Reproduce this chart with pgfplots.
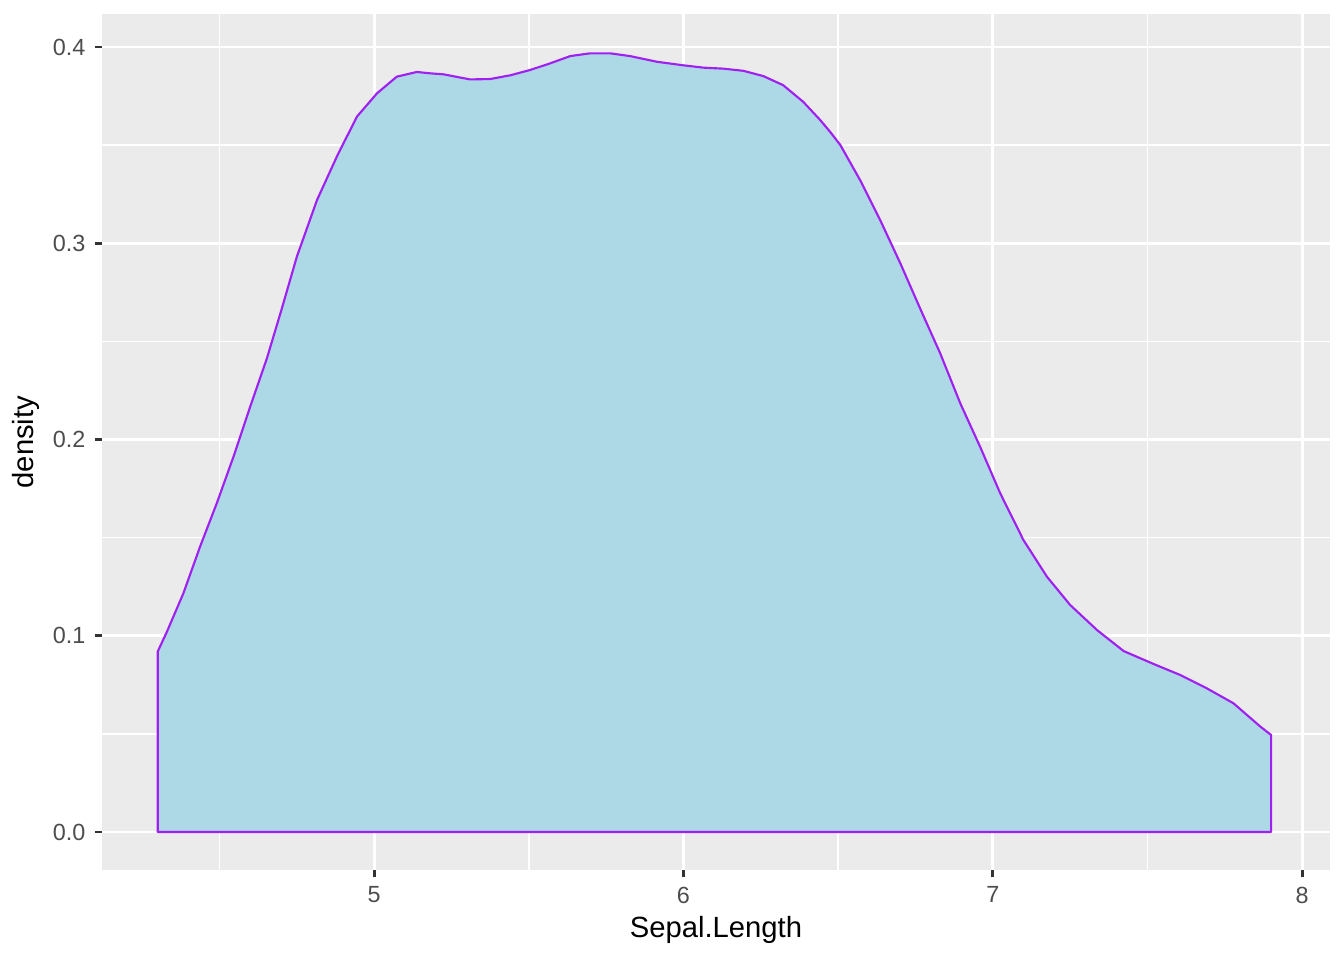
\documentclass[border=0pt]{standalone}
\usepackage{fontspec}
\setmainfont{Liberation Sans}
\usepackage{pgfplots}
\pgfplotsset{compat=1.18}
\definecolor{panelbg}{RGB}{235,235,235}
\definecolor{grey30}{RGB}{77,77,77}
\definecolor{grey20}{RGB}{51,51,51}
\definecolor{fillblue}{RGB}{173,216,230}
\definecolor{linepurple}{RGB}{160,32,240}
\begin{document}
\begin{tikzpicture}
\begin{axis}[
  scale only axis,
  width=462.2pt, height=322.2pt,
  xmin=4.12, xmax=8.09,
  ymin=-0.0194, ymax=0.4168,
  axis background/.style={fill=panelbg},
  axis line style={draw=none},
  xtick={5,6,7,8},
  minor xtick={4.5,5.5,6.5,7.5},
  ytick={0,0.1,0.2,0.3,0.4},
  minor ytick={0.05,0.15,0.25,0.35},
  grid=both,
  major grid style={white, line width=1.07pt},
  minor grid style={white, line width=0.53pt},
  tick align=outside,
  major tick length=2.75pt,
  minor tick length=0pt,
  tick style={grey20, line width=1.07pt},
  xtick pos=bottom, ytick pos=left,
  /pgf/number format/assume math mode=true,
  yticklabel style={/pgf/number format/fixed, /pgf/number format/fixed zerofill, /pgf/number format/precision=1, font=\fontsize{8.8}{10}\selectfont, text=grey30},
  xticklabel style={font=\fontsize{8.8}{10}\selectfont, text=grey30},
  xlabel={Sepal.Length},
  ylabel={density},
  label style={font=\fontsize{11}{13}\selectfont},
  xlabel style={yshift=2pt},
  ylabel style={yshift=-2pt},
]
\addplot[draw=linepurple, fill=fillblue, line width=0.8pt, line join=round] coordinates {
(4.3,0) (4.3,0.0919) (4.330,0.1021) (4.383,0.1216) (4.437,0.1454) (4.491,0.1675)
(4.545,0.1912) (4.599,0.2167) (4.653,0.2413) (4.700,0.2660) (4.750,0.2932)
(4.815,0.3220) (4.879,0.3441) (4.944,0.3645) (5.009,0.3764) (5.073,0.3849)
(5.138,0.3873) (5.181,0.3866) (5.224,0.3861) (5.310,0.3835) (5.375,0.3837)
(5.440,0.3856) (5.504,0.3883) (5.569,0.3917) (5.634,0.3954) (5.698,0.3968)
(5.763,0.3968) (5.827,0.3954) (5.914,0.3925) (5.999,0.3907) (6.064,0.3895)
(6.128,0.3890) (6.193,0.3879) (6.258,0.3852) (6.322,0.3806) (6.387,0.3721)
(6.442,0.3628) (6.474,0.3568) (6.507,0.3501) (6.571,0.3322) (6.636,0.3118)
(6.701,0.2898) (6.765,0.2668) (6.830,0.2439) (6.895,0.2184) (6.959,0.1963)
(7.024,0.1726) (7.099,0.1488) (7.175,0.1301) (7.250,0.1157) (7.337,0.1029)
(7.423,0.0922) (7.520,0.0856) (7.606,0.0800) (7.692,0.0732) (7.778,0.0656)
(7.865,0.0537) (7.9,0.0494) (7.9,0)
} --cycle;
\end{axis}
\path[use as bounding box] (-38.4pt,-33.9pt) rectangle (467.5pt,327.5pt);
\end{tikzpicture}
\end{document}
